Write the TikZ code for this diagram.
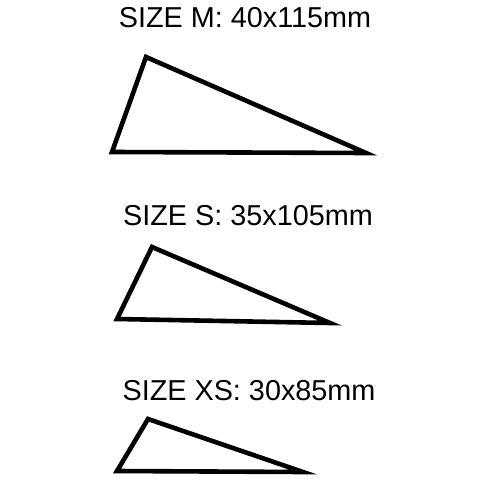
\documentclass[tikz,border=0pt]{standalone}
\usepackage{fontspec}
\setmainfont{Liberation Sans}
\usetikzlibrary{positioning}

\tikzset{
sizelabel/.style={inner sep=0pt, font=\fontsize{14.4pt}{16pt}\selectfont},
wedge/.style={draw=black, line width=2.3pt, line join=miter, miter limit=20}
}

\begin{document}
\begin{tikzpicture}[x=0.5pt,y=-0.5pt]
\useasboundingbox (0,0) rectangle (480,480);
% size M
\node[sizelabel] (labM) at (245,18) {SIZE M: 40x115mm};
\coordinate (mA) at (146,57);
\coordinate (mB) at (112,152);
\coordinate (mC) at (366,153);
\draw[wedge] (mA) -- (mC) -- (mB) -- cycle;
% size S
\node[sizelabel] (labS) at (248,216) {SIZE S: 35x105mm};
\coordinate (sA) at (152,247);
\coordinate (sB) at (117,319);
\coordinate (sC) at (330,323);
\draw[wedge] (sA) -- (sC) -- (sB) -- cycle;
% size XS
\node[sizelabel] (labXS) at (249,391) {SIZE XS: 30x85mm};
\coordinate (xA) at (148,419);
\coordinate (xB) at (117,471);
\coordinate (xC) at (303,472);
\draw[wedge] (xA) -- (xC) -- (xB) -- cycle;
\end{tikzpicture}
\end{document}
